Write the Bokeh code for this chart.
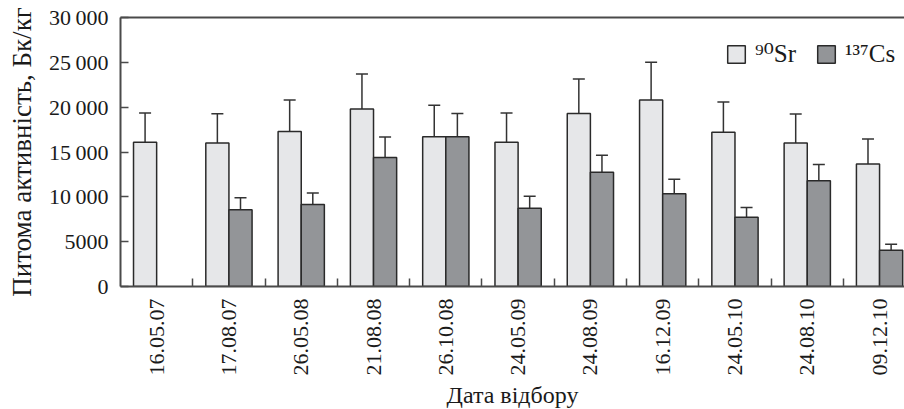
import math
from bokeh.plotting import figure
from bokeh.models import (ColumnDataSource, Range1d, FixedTicker, LinearAxis,
                          Whisker, TeeHead, Legend, LegendItem)
from bokeh.embed import file_html
from bokeh.resources import INLINE

# ---- data ----
dates = ["16.05.07", "17.08.07", "26.05.08", "21.08.08", "26.10.08", "24.05.09",
         "24.08.09", "16.12.09", "24.05.10", "24.08.10", "09.12.10"]
sr90 = [16100, 16000, 17300, 19800, 16700, 16100, 19300, 20800, 17200, 16000, 13650]
sr90_err = [3250, 3270, 3500, 3900, 3500, 3250, 3850, 4200, 3380, 3230, 2800]
cs137 = [None, 8550, 9150, 14400, 16700, 8730, 12750, 10350, 7730, 11800, 4050]
cs137_err = [None, 1340, 1280, 2280, 2580, 1340, 1880, 1600, 1080, 1800, 650]
y_ticks = [0, 5000, 10000, 15000, 20000, 25000, 30000]
y_tick_labels = ["0", "5000", "10\u2009000", "15\u2009000", "20\u2009000", "25\u2009000", "30\u2009000"]
series_names = ["\u2079\u2070Sr", "\u00b9\u00b3\u2077Cs"]
x_title = "Дата відбору"
y_title = "Питома активність, Бк/кг"

FONT = "'Liberation Serif', 'DejaVu Serif', serif"
SR_FILL = "#e6e7e9"
CS_FILL = "#939598"
EDGE = "#2a2a2a"
AXIS = "#4a4a4a"
BAR_W = 0.32

idx = list(range(len(dates)))
sr_src = ColumnDataSource(dict(
    x=[i - BAR_W / 2 for i in idx], top=sr90,
    upper=[v + e for v, e in zip(sr90, sr90_err)],
    lower=[v - e for v, e in zip(sr90, sr90_err)]))
cs_idx = [i for i in idx if cs137[i] is not None]
cs_src = ColumnDataSource(dict(
    x=[i + BAR_W / 2 for i in cs_idx], top=[cs137[i] for i in cs_idx],
    upper=[cs137[i] + cs137_err[i] for i in cs_idx],
    lower=[cs137[i] - cs137_err[i] for i in cs_idx]))

p = figure(frame_width=784, frame_height=269, output_backend="svg", toolbar_location=None,
           x_range=Range1d(-0.5, 10.345), y_range=Range1d(0, 30000),
           min_border_left=120, min_border_right=0, min_border_top=17,
           min_border_bottom=100, background_fill_color="white",
           border_fill_color="white")
p.outline_line_color = None
p.xgrid.visible = False
p.ygrid.visible = False

r_sr = p.vbar(x="x", top="top", width=BAR_W, source=sr_src, fill_color=SR_FILL,
              line_color=EDGE, line_width=1.5)
r_cs = p.vbar(x="x", top="top", width=BAR_W, source=cs_src, fill_color=CS_FILL,
              line_color=EDGE, line_width=1.5)

for src in (sr_src, cs_src):
    w = Whisker(base="x", upper="upper", lower="lower", source=src,
                line_color="#333333", line_width=1.5,
                upper_head=TeeHead(size=12, line_color="#333333", line_width=1.5),
                lower_head=TeeHead(size=12, line_color="#333333", line_width=1.5))
    p.add_layout(w)

# x axis
xa = p.xaxis[0]
xa.ticker = FixedTicker(ticks=idx, minor_ticks=[i + 0.5 for i in idx[:-1]])
xa.major_label_overrides = {i: d for i, d in zip(idx, dates)}
xa.major_label_orientation = math.pi / 2
xa.major_tick_in = 0
xa.major_tick_out = 0
xa.minor_tick_in = 8
xa.minor_tick_out = 0
xa.minor_tick_line_color = AXIS
xa.minor_tick_line_width = 1.5
xa.major_label_standoff = 12
xa.axis_label = x_title
xa.axis_label_standoff = 3
xa.axis_label_text_line_height = 1.0

# y axis
ya = p.yaxis[0]
ya.ticker = FixedTicker(ticks=y_ticks, minor_ticks=[])
ya.major_label_overrides = {t: l for t, l in zip(y_ticks, y_tick_labels)}
ya.major_tick_in = 8
ya.major_tick_out = 0
ya.major_tick_line_color = AXIS
ya.major_tick_line_width = 1.5
ya.major_label_standoff = 12
ya.axis_label = y_title
ya.axis_label_standoff = 9

for ax in (xa, ya):
    ax.axis_line_color = AXIS
    ax.axis_line_width = 2
    ax.major_label_text_font = FONT
    ax.major_label_text_color = "#1a1a1a"
    ax.axis_label_text_font = FONT
    ax.axis_label_text_font_style = "normal"
    ax.axis_label_text_color = "#1a1a1a"
xa.major_label_text_font_size = "22px"
ya.major_label_text_font_size = "22px"
xa.axis_label_text_font_size = "24px"
ya.axis_label_text_font_size = "27px"

# top frame line
top = LinearAxis(ticker=FixedTicker(ticks=[]), major_label_text_font_size="0px",
                 major_tick_in=0, major_tick_out=0, minor_tick_in=0, minor_tick_out=0,
                 axis_line_color=AXIS, axis_line_width=2)
p.add_layout(top, "above")

legend_kw = dict(orientation="horizontal", glyph_width=22, glyph_height=22,
                 label_standoff=8, padding=0, margin=0, border_line_color=None,
                 background_fill_alpha=0, label_text_font=FONT,
                 label_text_font_size="25px", label_text_color="#1a1a1a")
leg_sr = Legend(items=[LegendItem(label=series_names[0], renderers=[r_sr])],
                location=(605, 218), **legend_kw)
leg_cs = Legend(items=[LegendItem(label=series_names[1], renderers=[r_cs])],
                location=(695, 218), **legend_kw)
p.add_layout(leg_sr)
p.add_layout(leg_cs)

open("out.html", "w").write(file_html(p, INLINE))
